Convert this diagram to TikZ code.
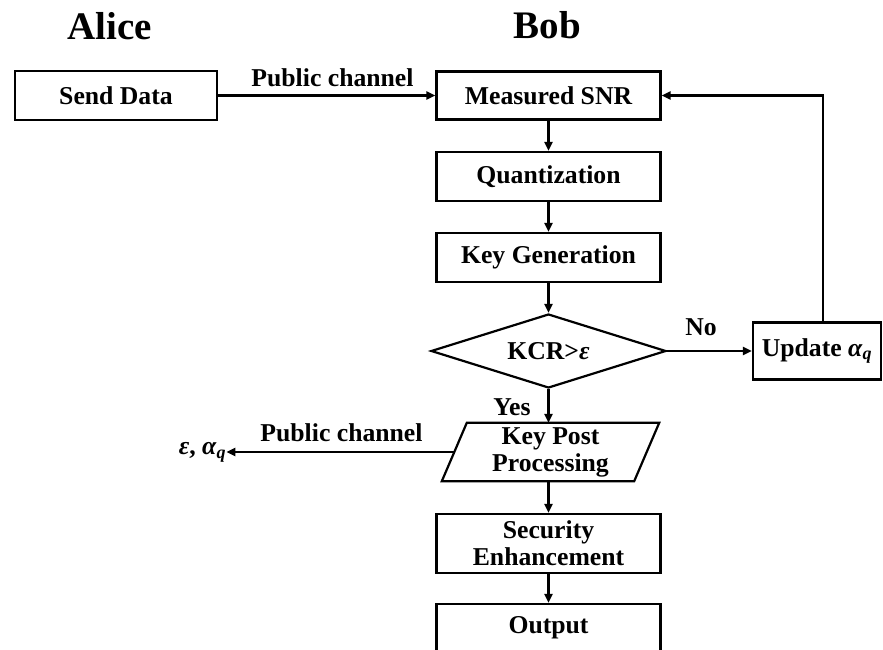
\documentclass[tikz,border=0pt]{standalone}
\usepackage{fontspec}
\setmainfont{Liberation Serif}
\usetikzlibrary{arrows.meta,shapes.geometric}

\tikzset{
  txt/.style={font=\fontsize{25.7}{27}\selectfont\bfseries, inner sep=0pt},
  stepbox/.style={txt, draw, rectangle, line width=2.2pt, align=center},
  decision/.style={txt, draw, diamond, line width=2.2pt, aspect=3.2,
    minimum width=235pt, minimum height=74pt},
  flow/.style={line width=2.3pt, -{Triangle[length=9pt,width=8pt]}},
  outline/.style={line width=2.2pt},
  heading/.style={font=\fontsize{39}{40}\selectfont\bfseries, inner sep=0pt, anchor=base}
}

\begin{document}
\begin{tikzpicture}[x=1pt,y=-1pt]
\useasboundingbox (0,0) rectangle (883,650);

% column headings
\node[heading] (alice) at (110,40) {Alice};
\node[heading] (bob)   at (547.5,39) {Bob};

% Alice side
\node[stepbox, minimum width=202pt, minimum height=49pt] (send) at (116,95.5) {Send Data};

% Bob's processing chain
\node[stepbox, minimum width=224pt, minimum height=48pt] (snr)    at (548.5,95.5)  {Measured SNR};
\node[stepbox, minimum width=224pt, minimum height=49pt] (quant)  at (548.5,176.5) {Quantization};
\node[stepbox, minimum width=224pt, minimum height=49pt] (keygen) at (548.5,257.5) {Key Generation};
\node[decision] (kcr) at (548.5,351) {KCR>\textit{ε}};
\node[stepbox, minimum width=128pt, minimum height=57pt] (update) at (817,351)
  {Update \textit{α}\textsubscript{\textit{q}}};

% key post processing (parallelogram drawn around its text node)
\node[txt, align=center, minimum width=192pt, minimum height=58pt] (kpp) at (550.5,452)
  {Key Post\\Processing};
\draw[outline] ([xshift=12.5pt]kpp.north west) -- ([xshift=12.5pt]kpp.north east)
  -- ([xshift=-12.5pt]kpp.south east) -- ([xshift=-12.5pt]kpp.south west) -- cycle;

\node[stepbox, minimum width=224pt, minimum height=59pt] (sec) at (548.5,543.5)
  {Security\\Enhancement};
\node[stepbox, minimum width=224pt, minimum height=48pt] (out) at (548.5,628) {Output};

% parameters sent back over the public channel
\node[txt] (params) at (202.5,452) {\textit{ε}, \textit{α}\textsubscript{\textit{q}}};

% connectors
\draw[flow] (send.east) -- (snr.west);
\draw[flow] (snr.south) -- (quant.north);
\draw[flow] (quant.south) -- (keygen.north);
\draw[flow] (keygen.south) -- (kcr.north);
\draw[flow] (kcr.east) -- (update.west);
\draw[flow] (kcr.south) -- (kcr.south |- kpp.north);
\draw[flow] (kpp.south -| sec.north) -- (sec.north);
\draw[flow] (sec.south) -- (out.north);
\draw[flow] (kpp.west) -- (params.east -| kpp.west) -- (params.east);

% feedback loop from the update step
\coordinate (fb) at (823,95.5);
\draw[flow] (update.north -| fb) -- (fb) -- (snr.east);

% connector labels
\node[txt, anchor=base] (pub1) at (332.5,87)  {Public channel};
\node[txt, anchor=base] (pub2) at (341.5,441) {Public channel};
\node[txt, anchor=base] (no)   at (701,335)   {No};
\node[txt, anchor=base] (yes)  at (512,415)   {Yes};
\end{tikzpicture}
\end{document}
